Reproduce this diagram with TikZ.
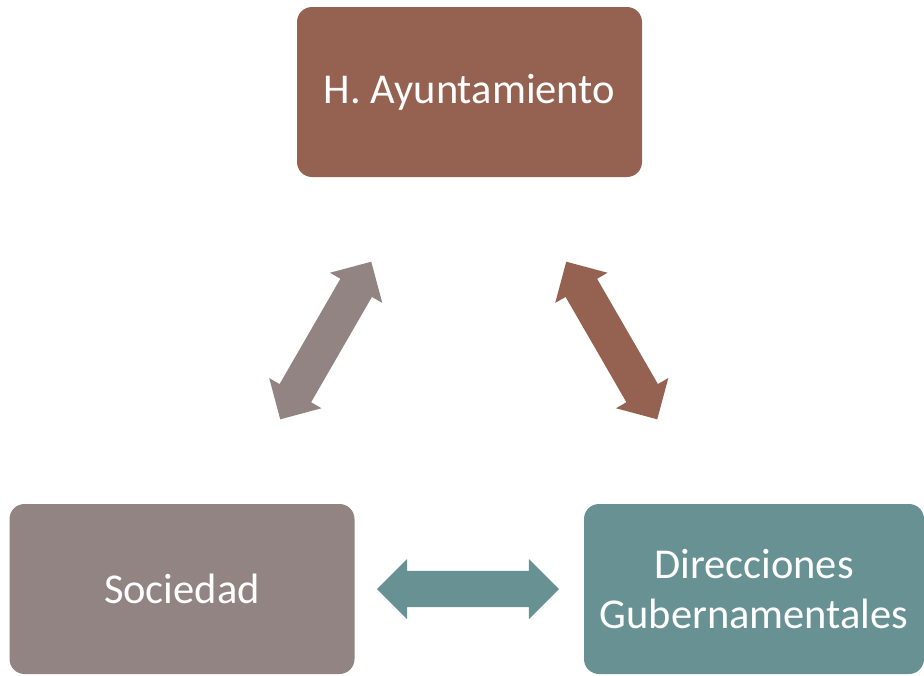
\documentclass[tikz,border=0pt]{standalone}
\usepackage{fontspec}
\setmainfont{Carlito}
\usetikzlibrary{shapes.arrows, calc}

\definecolor{ayto}{RGB}{149,98,81}
\definecolor{soc}{RGB}{145,132,131}
\definecolor{dir}{RGB}{104,145,148}

\begin{document}
\begin{tikzpicture}[x=1pt, y=-1pt,
	box/.style={rectangle, rounded corners=15pt, text=white, align=center,
		minimum width=345pt, minimum height=170pt, inner sep=0pt,
		font=\fontsize{42.5}{50}\selectfont},
	dblarrow/.style={double arrow, minimum height=182pt, minimum width=60pt,
		double arrow head extend=12pt, inner xsep=0pt, inner ysep=18pt}]
	\useasboundingbox (0,0) rectangle (924,675);

	\node[box, fill=ayto] (ayuntamiento) at (469.5,92)  {H. Ayuntamiento};
	\node[box, fill=soc]  (sociedad)     at (182,589)   {Sociedad};
	\node[box, fill=dir, minimum width=340pt] (direcciones) at (754,589)
		{Direcciones\\Gubernamentales};

	% flechas dobles entre los cuadros
	\node[dblarrow, fill=soc, rotate=60]  (flechaizq) at ($(ayuntamiento)!0.5!(sociedad)$) {};
	\node[dblarrow, fill=ayto, rotate=-60] (flechader) at ($(ayuntamiento)!0.5!(direcciones)$) {};
	\node[dblarrow, fill=dir]             (flechainf) at ($(sociedad)!0.5!(direcciones)$) {};
\end{tikzpicture}
\end{document}
